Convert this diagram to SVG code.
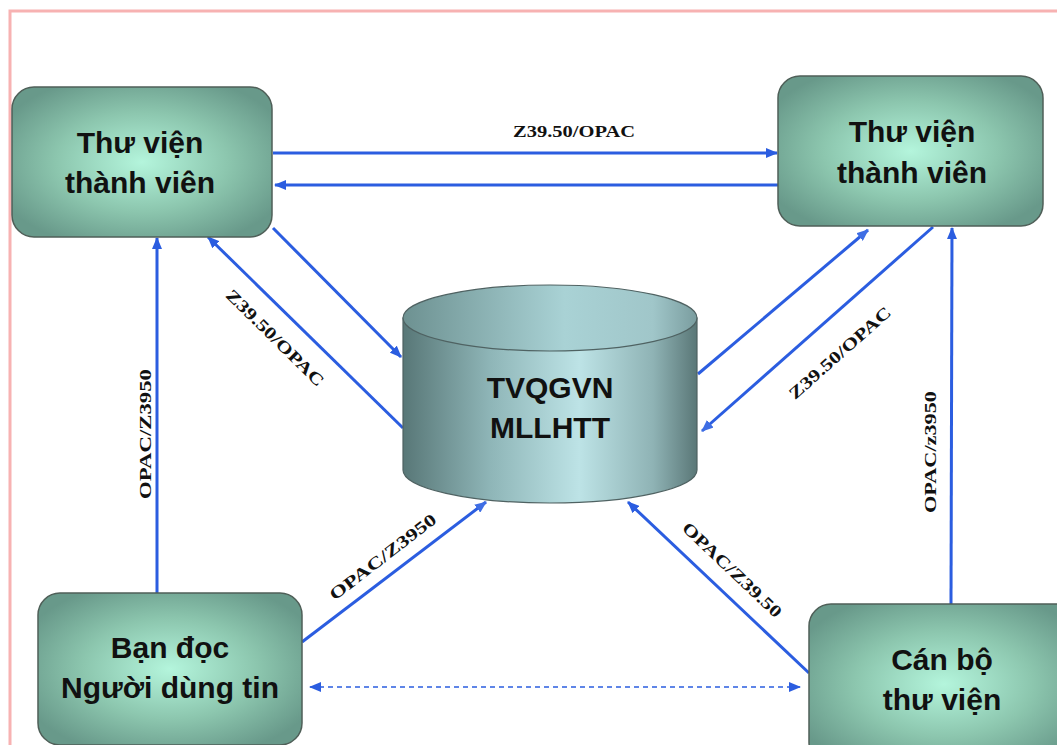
<svg xmlns="http://www.w3.org/2000/svg" width="1057" height="745" viewBox="0 0 1057 745">
<style>
.node{stroke:#4f5f58;stroke-width:1.5;fill:url(#ng)}
.nt{font-family:"Liberation Sans",Arial,sans-serif;font-weight:bold;font-size:30px;fill:#111;text-anchor:middle}
.ln{stroke:#2b5de0;stroke-width:3;fill:none}
.lbl{font-family:"Liberation Serif","Times New Roman",serif;font-weight:bold;font-size:17px;fill:#111;text-anchor:middle;dominant-baseline:central}
</style>
<defs>
<radialGradient id="ng" cx="50%" cy="50%" r="60%">
<stop offset="0" stop-color="#b4f5dc"/>
<stop offset="0.55" stop-color="#8cc6ae"/>
<stop offset="1" stop-color="#68998a"/>
</radialGradient>
<linearGradient id="cyl" x1="0" y1="0" x2="1" y2="0">
<stop offset="0" stop-color="#587777"/>
<stop offset="0.3" stop-color="#8fb6b8"/>
<stop offset="0.6" stop-color="#bde3e6"/>
<stop offset="0.85" stop-color="#8fb3b5"/>
<stop offset="1" stop-color="#5a7777"/>
</linearGradient>
<linearGradient id="cylTop" x1="0" y1="0" x2="1" y2="0">
<stop offset="0" stop-color="#6d9191"/>
<stop offset="0.55" stop-color="#a9d2d5"/>
<stop offset="0.85" stop-color="#a0c6c9"/>
<stop offset="1" stop-color="#7a9d9f"/>
</linearGradient>
<marker id="ah" markerWidth="12" markerHeight="10" refX="11" refY="5" orient="auto" markerUnits="userSpaceOnUse">
<path d="M0,0 L12,5 L0,10 z" fill="#2b5de0"/>
</marker>
<marker id="ahs" markerWidth="12" markerHeight="10" refX="1" refY="5" orient="auto" markerUnits="userSpaceOnUse">
<path d="M12,0 L0,5 L12,10 z" fill="#2b5de0"/>
</marker>
<marker id="ahL" markerWidth="12" markerHeight="10" refX="11" refY="5" orient="auto" markerUnits="userSpaceOnUse">
<path d="M0,0 L12,5 L0,10 z" fill="#3f6ee4"/>
</marker>
</defs>
<rect x="0" y="0" width="1057" height="745" fill="#ffffff"/>
<rect x="10" y="11" width="1070" height="760" fill="none" stroke="#f7b2b2" stroke-width="3"/>

<g id="connectors">
<line class="ln" x1="273" y1="153" x2="777" y2="153" marker-end="url(#ah)"/>
<line class="ln" x1="778" y1="185" x2="275" y2="185" marker-end="url(#ah)"/>
<line class="ln" x1="273" y1="228" x2="401" y2="357" marker-end="url(#ah)"/>
<line class="ln" x1="403" y1="428" x2="208" y2="237" marker-end="url(#ah)"/>
<line class="ln" x1="698" y1="374" x2="868" y2="230" stroke="#7b9ced" marker-end="url(#ahL)"/>
<line class="ln" x1="933" y1="227" x2="702" y2="431" stroke="#4a77e6" marker-end="url(#ahL)"/>
<line class="ln" x1="157" y1="593" x2="157" y2="238" marker-end="url(#ah)"/>
<line class="ln" x1="951" y1="604" x2="952" y2="228" marker-end="url(#ah)"/>
<line class="ln" x1="302" y1="642" x2="486" y2="502" stroke="#3a68e2" marker-end="url(#ahL)"/>
<line class="ln" x1="809" y1="673" x2="628" y2="502" marker-end="url(#ah)"/>
<line x1="310" y1="687" x2="800" y2="687" stroke="#2b5de0" stroke-width="1.5" stroke-dasharray="5,4" marker-start="url(#ahs)" marker-end="url(#ah)"/>
<text class="lbl" x="574" y="131" textLength="122" lengthAdjust="spacingAndGlyphs">Z39.50/OPAC</text>
<text class="lbl" transform="translate(275,338) rotate(44.5)" textLength="130" lengthAdjust="spacingAndGlyphs">Z39.50/OPAC</text>
<text class="lbl" transform="translate(840,353) rotate(-41.6)" textLength="130" lengthAdjust="spacingAndGlyphs">Z39.50/OPAC</text>
<text class="lbl" transform="translate(145,434) rotate(-90)" textLength="130" lengthAdjust="spacingAndGlyphs">OPAC/Z3950</text>
<text class="lbl" transform="translate(930,452) rotate(-90)" textLength="122" lengthAdjust="spacingAndGlyphs">OPAC/z3950</text>
<text class="lbl" transform="translate(383,557) rotate(-37.6)" textLength="130" lengthAdjust="spacingAndGlyphs">OPAC/Z3950</text>
<text class="lbl" transform="translate(732,570) rotate(43.4)" textLength="130" lengthAdjust="spacingAndGlyphs">OPAC/Z39.50</text>
</g>

<g id="node-tl">
<rect class="node" x="12" y="87" width="260" height="150" rx="22"/>
<text class="nt" x="140" y="153">Thư viện</text>
<text class="nt" x="140" y="193">thành viên</text>
</g>
<g id="node-tr">
<rect class="node" x="778" y="76" width="265" height="150" rx="22"/>
<text class="nt" x="912" y="142">Thư viện</text>
<text class="nt" x="912" y="183">thành viên</text>
</g>
<g id="node-bl">
<rect class="node" x="38" y="593" width="264" height="152" rx="22"/>
<text class="nt" x="170" y="658">Bạn đọc</text>
<text class="nt" x="170" y="698">Người dùng tin</text>
</g>
<g id="node-br">
<rect class="node" x="809" y="604" width="270" height="160" rx="22"/>
<text class="nt" x="942" y="670">Cán bộ</text>
<text class="nt" x="942" y="710">thư viện</text>
</g>
<g id="node-db">
<path d="M403,318 L403,470 A147,33 0 0 0 697,470 L697,318 Z" fill="url(#cyl)" stroke="#4f6262" stroke-width="1.2"/>
<ellipse cx="550" cy="318" rx="147" ry="33" fill="url(#cylTop)" stroke="#4f6262" stroke-width="1.2"/>
<text class="nt" x="550" y="398" font-size="29">TVQGVN</text>
<text class="nt" x="550" y="438" font-size="29">MLLHTT</text>
</g>
</svg>
